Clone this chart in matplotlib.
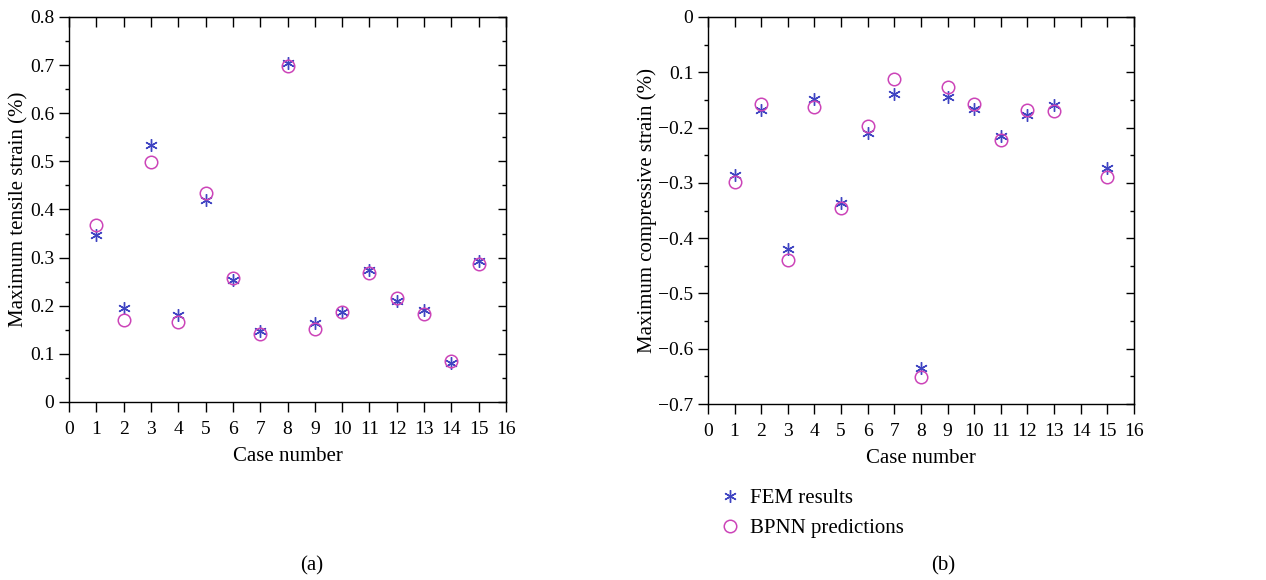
import matplotlib
matplotlib.use("Agg")
import matplotlib.pyplot as plt
from matplotlib.lines import Line2D
from matplotlib.ticker import MultipleLocator

plt.rcParams["font.family"] = ["Liberation Serif", "DejaVu Serif"]

# (a) maximum tensile strain
cases_a = [1, 2, 3, 4, 5, 6, 7, 8, 9, 10, 11, 12, 13, 14, 15]
fem_a = [0.346, 0.196, 0.535, 0.180, 0.419, 0.254, 0.147, 0.705,
         0.164, 0.188, 0.275, 0.209, 0.192, 0.082, 0.293]
bpnn_a = [0.368, 0.170, 0.499, 0.166, 0.434, 0.258, 0.142, 0.698,
          0.152, 0.187, 0.268, 0.216, 0.182, 0.085, 0.287]

# (b) maximum compressive strain (case 14 not shown)
cases_b = [1, 2, 3, 4, 5, 6, 7, 8, 9, 10, 11, 12, 13, 15]
fem_b = [-0.286, -0.169, -0.420, -0.149, -0.336, -0.210, -0.139, -0.634,
         -0.145, -0.166, -0.216, -0.177, -0.160, -0.274]
bpnn_b = [-0.298, -0.157, -0.439, -0.163, -0.345, -0.198, -0.113, -0.652,
          -0.127, -0.157, -0.222, -0.169, -0.170, -0.290]

x_ticks = list(range(0, 17))
y_ticks_a = [0, 0.1, 0.2, 0.3, 0.4, 0.5, 0.6, 0.7, 0.8]
y_labels_a = ["0", "0.1", "0.2", "0.3", "0.4", "0.5", "0.6", "0.7", "0.8"]
y_ticks_b = [0, -0.1, -0.2, -0.3, -0.4, -0.5, -0.6, -0.7]
y_labels_b = ["0", "0.1", "\u22120.2", "\u22120.3", "\u22120.4",
              "\u22120.5", "\u22120.6", "\u22120.7"]

FEM_COLOR = "#3f44c2"
BPNN_COLOR = "#cc44b8"
ASTERISK = (6, 2, 0)
FS = 14


def style_axes(ax):
    ax.set_xlim(0, 16)
    ax.set_xticks(x_ticks)
    ax.set_xticklabels([str(t) for t in x_ticks])
    ax.yaxis.set_minor_locator(MultipleLocator(0.05))
    ax.tick_params(axis="both", which="both", labelsize=FS, width=1.0,
                   direction="out", top=False, right=False)
    ax.tick_params(axis="both", which="major", length=7)
    ax.tick_params(axis="x", which="major", pad=7)
    ax.tick_params(axis="y", which="minor", length=3)
    for spine in ax.spines.values():
        spine.set_linewidth(1.0)
    # inward mirror ticks on top and right
    sx = ax.secondary_xaxis("top")
    sx.set_xticks(x_ticks)
    sx.tick_params(direction="in", length=7, labeltop=False, width=1.0)
    sy = ax.secondary_yaxis("right")
    sy.set_yticks(ax.get_yticks())
    sy.yaxis.set_minor_locator(MultipleLocator(0.05))
    sy.tick_params(which="major", direction="in", length=6, labelright=False, width=1.0)
    sy.tick_params(which="minor", direction="in", length=3, labelright=False, width=1.0)


def draw_points(ax, cases, fem, bpnn):
    ax.plot(cases, fem, linestyle="none", marker=ASTERISK, markersize=9,
            markeredgewidth=1.0, color=FEM_COLOR)
    ax.plot(cases, bpnn, linestyle="none", marker="o", markersize=9,
            markerfacecolor="none", markeredgewidth=1.1, markeredgecolor=BPNN_COLOR)


fig = plt.figure(figsize=(12.66, 5.8), dpi=100)
ax_a = fig.add_axes([0.0545, 0.3069, 0.3452, 0.6638])
ax_b = fig.add_axes([0.5592, 0.3034, 0.3365, 0.6673])

draw_points(ax_a, cases_a, fem_a, bpnn_a)
ax_a.set_ylim(0, 0.8)
ax_a.set_yticks(y_ticks_a)
ax_a.set_yticklabels(y_labels_a)
ax_a.set_xlabel("Case number", fontsize=FS + 1, labelpad=6)
ax_a.set_ylabel("Maximum tensile strain (%)", fontsize=FS + 1, labelpad=1)
style_axes(ax_a)

draw_points(ax_b, cases_b, fem_b, bpnn_b)
ax_b.set_ylim(-0.7, 0)
ax_b.set_yticks(y_ticks_b)
ax_b.set_yticklabels(y_labels_b)
ax_b.set_xlabel("Case number", fontsize=FS + 1, labelpad=6)
ax_b.set_ylabel("Maximum compressive strain (%)", fontsize=FS + 1, labelpad=1)
style_axes(ax_b)

handles = [
    Line2D([], [], linestyle="none", marker=ASTERISK, markersize=9,
           markeredgewidth=1.0, color=FEM_COLOR),
    Line2D([], [], linestyle="none", marker="o", markersize=9,
           markerfacecolor="none", markeredgewidth=1.1, markeredgecolor=BPNN_COLOR),
]
fig.legend(handles, ["FEM results", "BPNN predictions"], loc="upper left",
           bbox_to_anchor=(0.568, 0.158), frameon=False, fontsize=FS + 1,
           handlelength=1.0, handletextpad=0.5, labelspacing=0.5,
           borderpad=0, borderaxespad=0)

fig.text(0.2465, 0.008, "(a)", ha="center", va="bottom", fontsize=FS + 1)
fig.text(0.745, 0.008, "(b)", ha="center", va="bottom", fontsize=FS + 1)

fig.savefig("out.png", dpi=100)
